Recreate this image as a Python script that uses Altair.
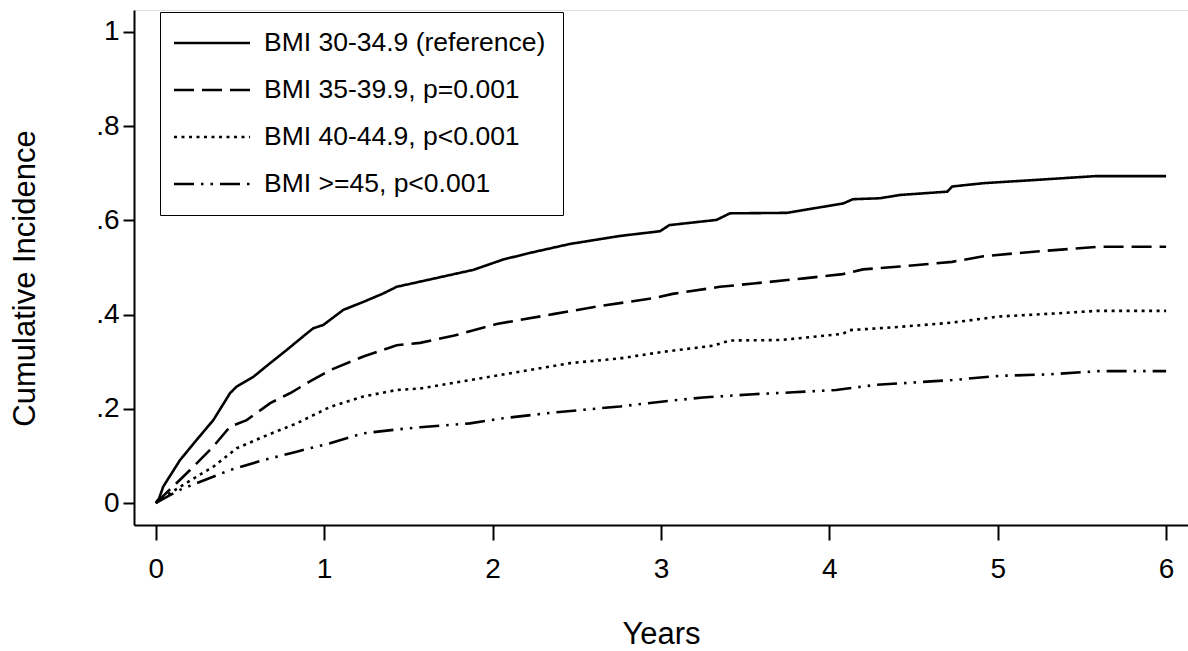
import altair as alt
import pandas as pd

groups = ["BMI 30-34.9 (reference)", "BMI 35-39.9, p=0.001",
          "BMI 40-44.9, p<0.001", "BMI >=45, p<0.001"]

years_a = [0, 0.02, 0.045, 0.144, 0.243, 0.342, 0.441, 0.48, 0.58, 0.68, 0.778, 0.897,
           0.936, 0.995, 1.114, 1.233, 1.352, 1.431, 1.57, 1.886, 2.064, 2.223, 2.46,
           2.757, 2.995, 3.05, 3.33, 3.41, 3.747, 4.083, 4.14, 4.30, 4.42, 4.70, 4.73,
           4.915, 5.23, 5.58, 6.0]
ci_a = [0, 0.01, 0.035, 0.091, 0.134, 0.176, 0.233, 0.247, 0.268, 0.297, 0.325, 0.360,
        0.371, 0.378, 0.41, 0.427, 0.445, 0.459, 0.470, 0.495, 0.517, 0.531, 0.550,
        0.567, 0.577, 0.590, 0.601, 0.615, 0.616, 0.636, 0.645, 0.647, 0.654, 0.661,
        0.672, 0.679, 0.686, 0.694, 0.694]

years_b = [0, 0.02, 0.045, 0.204, 0.342, 0.441, 0.54, 0.68, 0.797, 0.916, 1.035, 1.233,
           1.431, 1.57, 1.767, 2.025, 2.36, 2.619, 2.955, 3.07, 3.35, 3.55, 3.85, 4.08,
           4.20, 4.42, 4.73, 4.915, 5.23, 5.6, 6.0]
ci_b = [0, 0.005, 0.015, 0.070, 0.12, 0.162, 0.176, 0.212, 0.233, 0.258, 0.282, 0.311,
        0.335, 0.340, 0.355, 0.380, 0.401, 0.417, 0.435, 0.444, 0.459, 0.466, 0.477, 0.486,
        0.496, 0.502, 0.512, 0.524, 0.534, 0.544, 0.544]

years_c = [0, 0.02, 0.085, 0.243, 0.342, 0.48, 0.64, 0.837, 1.035, 1.233, 1.431, 1.57,
           1.866, 2.163, 2.46, 2.757, 3.014, 3.31, 3.41, 3.707, 4.08, 4.12, 4.42, 4.73,
           5.01, 5.37, 5.59, 6.0]
ci_c = [0, 0.005, 0.021, 0.056, 0.077, 0.116, 0.141, 0.169, 0.204, 0.226, 0.240, 0.243,
        0.261, 0.279, 0.297, 0.307, 0.321, 0.334, 0.345, 0.346, 0.359, 0.367, 0.374, 0.383,
        0.396, 0.403, 0.408, 0.408]

years_d = [0, 0.02, 0.144, 0.243, 0.441, 0.64, 0.837, 1.035, 1.233, 1.431, 1.57, 1.866,
           2.064, 2.36, 2.757, 3.05, 3.25, 3.55, 3.786, 4.04, 4.28, 4.42, 4.73, 5.01, 5.3,
           5.6, 6.0]
ci_d = [0, 0.004, 0.028, 0.042, 0.070, 0.091, 0.109, 0.127, 0.148, 0.156, 0.161, 0.169,
        0.180, 0.192, 0.205, 0.217, 0.224, 0.231, 0.235, 0.240, 0.251, 0.254, 0.261, 0.270,
        0.273, 0.280, 0.280]

x_ticks = [0, 1, 2, 3, 4, 5, 6]
y_ticks = [0, 0.2, 0.4, 0.6, 0.8, 1.0]

rows = []
for g, xs, ys in zip(groups, [years_a, years_b, years_c, years_d], [ci_a, ci_b, ci_c, ci_d]):
    for i, (t, v) in enumerate(zip(xs, ys)):
        rows.append({"group": g, "years": t, "ci": v, "order": i})
df = pd.DataFrame(rows)

FONT = "Liberation Sans"

chart = alt.Chart(df).mark_line(color="black", strokeWidth=2.6, strokeCap="butt").encode(
    x=alt.X("years:Q", scale=alt.Scale(domain=[-0.129, 6.13], nice=False, zero=False),
            axis=alt.Axis(values=x_ticks, format="d", title="Years", grid=False,
                          titleFont=FONT, titleFontSize=31, titleFontWeight="normal",
                          titleColor="black", titleBaseline="alphabetic", titleY=118,
                          labelFont=FONT, labelFontSize=28, labelColor="black",
                          labelPadding=15, tickSize=15, tickWidth=2, tickColor="black",
                          domainWidth=2, domainColor="black")),
    y=alt.Y("ci:Q", scale=alt.Scale(domain=[-0.0467, 1.0467], nice=False, zero=False),
            axis=alt.Axis(values=y_ticks, title="Cumulative Incidence", grid=False,
                          labelExpr="datum.value == 0 ? '0' : datum.value == 1 ? '1' : '.' + format(datum.value * 10, '.0f')",
                          titleFont=FONT, titleFontSize=31, titleFontWeight="normal",
                          titleColor="black", titleBaseline="alphabetic", titleX=-100,
                          titleY=268,
                          labelFont=FONT, labelFontSize=28, labelColor="black",
                          labelPadding=4, tickSize=11, tickWidth=2, tickColor="black",
                          domainWidth=2, domainColor="black")),
    strokeDash=alt.StrokeDash("group:N",
        scale=alt.Scale(domain=groups, range=[[1, 0], [20, 8], [3, 4.5], [20, 7, 2.5, 7, 2.5, 7]]),
        legend=alt.Legend(orient="none", legendX=26, legendY=2, title=None,
                          symbolType="M-3,0H3", symbolSize=642, symbolStrokeWidth=2.6,
                          symbolOffset=21,
                          symbolStrokeColor="black", labelFont=FONT, labelFontSize=26.5,
                          labelColor="black", labelLimit=0, labelOffset=38,
                          strokeColor="black", fillColor="white", padding=17,
                          rowPadding=19)),
    order="order:Q",
).properties(
    width=1054, height=515,
    autosize=alt.AutoSizeParams(type="none"),
    padding={"left": 134, "top": 10, "right": 0, "bottom": 126},
).configure_view(stroke=None).configure(background="white")

chart.save("out.html", embed_options={"renderer": "svg", "actions": False})
